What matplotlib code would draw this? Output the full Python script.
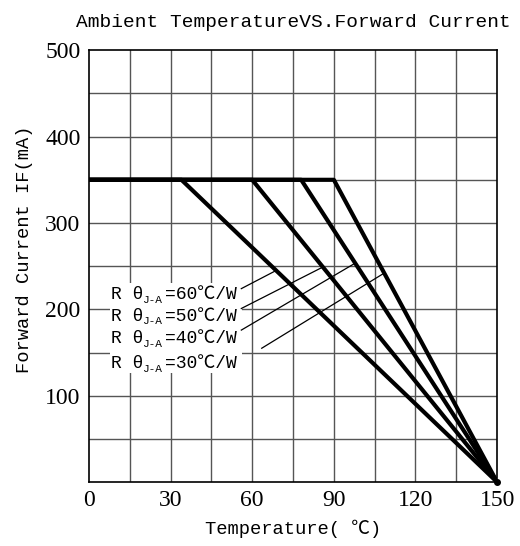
import matplotlib
matplotlib.use("Agg")
import matplotlib.pyplot as plt
from matplotlib.patches import Rectangle
import numpy as np

# derating curves: flat at max current until the break temperature, then down to 0 at Tj max
rth_values = [60, 50, 40, 30]          # R theta J-A, degC/W
break_temps = [34, 60, 78, 90]         # Ta where derating starts
max_current = 350
max_temp = 150

x_ticks = [0, 30, 60, 90, 120, 150]
y_ticks = [100, 200, 300, 400, 500]

# label placement (data units)
label_x = 8
label_y = [217, 192, 166, 137]
leader_start = [(56, 224), (56, 201), (56, 176), (63.5, 155)]
leader_end_current = [245, 249, 253.5, 242]

MONO = ["Liberation Mono", "Noto Sans CJK SC"]
SERIF = ["Liberation Serif", "Noto Sans CJK SC"]

fig = plt.figure(figsize=(5.2, 5.46), dpi=100)
ax = fig.add_axes([0.171, 0.117, 0.785, 0.791])

# grid
for gx in np.arange(15, max_temp, 15):
    ax.axvline(gx, color="#555555", lw=1.0, zorder=1)
for gy in np.arange(50, 500, 50):
    ax.axhline(gy, color="#555555", lw=1.0, zorder=1)

# white patch behind the labels (hides the grid there)
ax.add_patch(Rectangle((7.7, 126), 48.6, 104, facecolor="white", edgecolor="none", zorder=1.5))

for tb in break_temps:
    ax.plot([0, tb, max_temp], [max_current, max_current, 0],
            color="black", lw=3.0, solid_capstyle="butt", zorder=3)
ax.plot([max_temp], [0], "o", color="black", ms=4, zorder=4, clip_on=False)

# leader lines from labels to the curves
for (sx, sy), ey, tb in zip(leader_start, leader_end_current, break_temps):
    ex = tb + (max_current - ey) / max_current * (max_temp - tb)
    ax.plot([sx, ex], [sy, ey], color="black", lw=0.9, zorder=2)

# labels: R theta with J-A subscript
fs = 13
for r, ly in zip(rth_values, label_y):
    ax.annotate("R θ", xy=(label_x, ly), xytext=(0, 0), textcoords="offset points",
                va="center", ha="left", fontsize=fs, family=MONO, zorder=5)
    ax.annotate("J-A", xy=(label_x, ly), xytext=(fs * 1.8, -3.5), textcoords="offset points",
                va="center", ha="left", fontsize=fs * 0.62, family=MONO, zorder=5)
    ax.annotate("=%d℃/W" % r, xy=(label_x, ly), xytext=(fs * 1.8 + fs * 0.62 * 1.8 + 1, 0),
                textcoords="offset points", va="center", ha="left", fontsize=fs,
                family=MONO, zorder=5)

ax.set_xlim(0, max_temp)
ax.set_ylim(0, 500)
ax.set_xticks(x_ticks)
ax.set_yticks(y_ticks)
ax.tick_params(length=0, pad=6, labelsize=17)
for lab in ax.get_xticklabels() + ax.get_yticklabels():
    lab.set_family(SERIF)
for sp in ax.spines.values():
    sp.set_color("black")
    sp.set_linewidth(1.2)

ax.set_title("Ambient TemperatureVS.Forward Current", family=MONO, fontsize=14, pad=17)
ax.set_xlabel("Temperature( ℃)", family=MONO, fontsize=13.5, labelpad=6)
ax.set_ylabel("Forward Current IF(mA)", family=MONO, fontsize=13.5)
ax.yaxis.set_label_coords(-0.138, 0.54)

fig.savefig("out.png", dpi=100)
